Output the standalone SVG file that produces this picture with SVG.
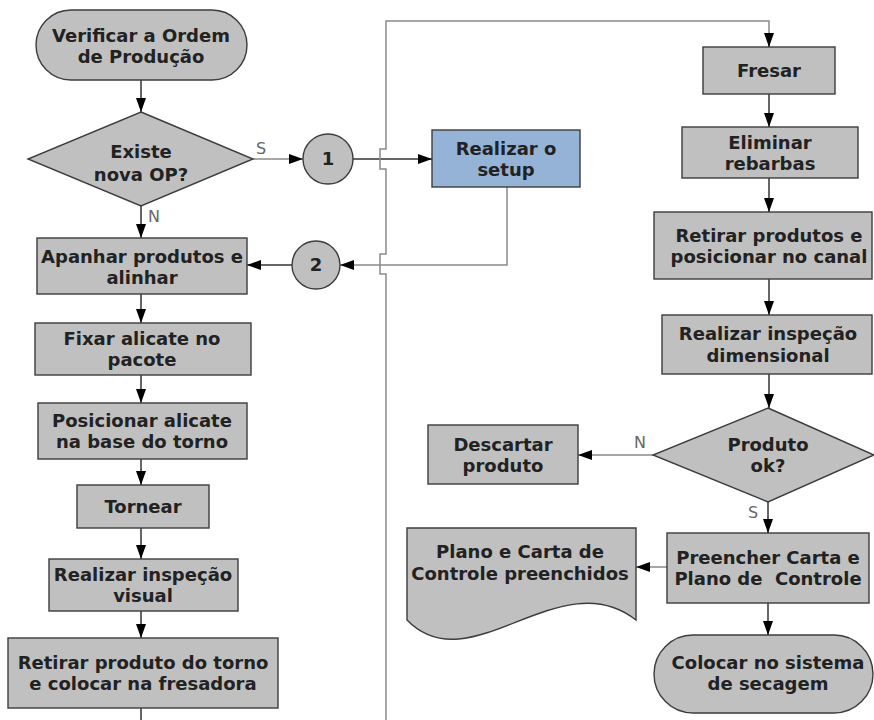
<svg xmlns="http://www.w3.org/2000/svg" width="874" height="720" viewBox="0 0 874 720">
<defs>
<style>
.box{fill:#c0c0c0;stroke:#3c3c3c;stroke-width:1.4}
.blue{fill:#95b3d7;stroke:#3c3c3c;stroke-width:1.4}
.t{font-family:"DejaVu Sans","Liberation Sans",sans-serif;font-weight:bold;font-size:18px;fill:#222;text-anchor:middle}
.lbl{font-family:"DejaVu Sans","Liberation Sans",sans-serif;font-size:16px;fill:#666}
.ln{fill:none;stroke:#333;stroke-width:1.5}
.lg{fill:none;stroke:#8a8a8a;stroke-width:1.5}
</style>
<marker id="ah" viewBox="0 0 14 10" refX="14" refY="5" markerWidth="14" markerHeight="10" markerUnits="userSpaceOnUse" orient="auto">
<path d="M0,0 L14,5 L0,10 z" fill="#000"/>
</marker>
</defs>
<rect width="874" height="720" fill="#fff"/>

<g id="connectors">
<path class="ln" d="M141,80 V112" marker-end="url(#ah)"/>
<path class="lg" d="M253,159 H303" marker-end="url(#ah)"/>
<path class="ln" d="M353,159 H432" marker-end="url(#ah)"/>
<path class="lg" d="M386,720 V274 H380 V254 H386 V169 H380 V149 H386 V21 H769 V47" />
<path class="ln" d="M769,38 V47" marker-end="url(#ah)"/>
<path class="lg" d="M507,187 V265 H340" marker-end="url(#ah)"/>
<path class="ln" d="M292,265 H247" marker-end="url(#ah)"/>
<path class="ln" d="M141,206 V238" marker-end="url(#ah)"/>
<path class="ln" d="M141,294 V323" marker-end="url(#ah)"/>
<path class="ln" d="M141,375 V403" marker-end="url(#ah)"/>
<path class="ln" d="M141,459 V485" marker-end="url(#ah)"/>
<path class="ln" d="M141,528 V559" marker-end="url(#ah)"/>
<path class="ln" d="M141,611 V638" marker-end="url(#ah)"/>
<path class="ln" d="M141,708 V720"/>
<path class="ln" d="M769,94 V127" marker-end="url(#ah)"/>
<path class="ln" d="M769,178 V212" marker-end="url(#ah)"/>
<path class="ln" d="M769,279 V315" marker-end="url(#ah)"/>
<path class="ln" d="M769,374 V408" marker-end="url(#ah)"/>
<path class="lg" d="M653,455 H578" marker-end="url(#ah)"/>
<path class="ln" d="M768,502 V533" marker-end="url(#ah)"/>
<path class="lg" d="M667,567 H636" marker-end="url(#ah)"/>
<path class="ln" d="M768,603 V635" marker-end="url(#ah)"/>
<text class="lbl" x="256" y="154">S</text>
<text class="lbl" x="148" y="222">N</text>
<text class="lbl" x="634" y="448">N</text>
<text class="lbl" x="748" y="518">S</text>
</g>

<g id="n-verificar">
<rect class="box" x="36" y="10" width="211" height="70" rx="35"/>
<text class="t" x="141" y="42">Verificar a Ordem</text>
<text class="t" x="141" y="63">de Produção</text>
</g>
<g id="n-existe">
<polygon class="box" points="141,112 253,159 141,206 28,159"/>
<text class="t" x="141" y="158">Existe</text>
<text class="t" x="141" y="181">nova OP?</text>
</g>
<g id="n-c1">
<circle class="box" cx="328" cy="159" r="25"/>
<text class="t" x="328" y="165">1</text>
</g>
<g id="n-setup">
<rect class="blue" x="432" y="130" width="148" height="57"/>
<text class="t" x="506" y="155">Realizar o</text>
<text class="t" x="506" y="176">setup</text>
</g>
<g id="n-c2">
<circle class="box" cx="316" cy="265" r="24"/>
<text class="t" x="316" y="271">2</text>
</g>
<g id="n-apanhar">
<rect class="box" x="37" y="238" width="210" height="56"/>
<text class="t" x="142" y="263">Apanhar produtos e</text>
<text class="t" x="142" y="284">alinhar</text>
</g>
<g id="n-fixar">
<rect class="box" x="35" y="323" width="216" height="52"/>
<text class="t" x="142" y="345">Fixar alicate no</text>
<text class="t" x="142" y="366">pacote</text>
</g>
<g id="n-posicionar">
<rect class="box" x="38" y="403" width="209" height="56"/>
<text class="t" x="142" y="427">Posicionar alicate</text>
<text class="t" x="142" y="448">na base do torno</text>
</g>
<g id="n-tornear">
<rect class="box" x="77" y="485" width="132" height="43"/>
<text class="t" x="143" y="513">Tornear</text>
</g>
<g id="n-visual">
<rect class="box" x="49" y="559" width="189" height="52"/>
<text class="t" x="143" y="581">Realizar inspeção</text>
<text class="t" x="143" y="602">visual</text>
</g>
<g id="n-retirar-torno">
<rect class="box" x="8" y="638" width="270" height="70"/>
<text class="t" x="143" y="669">Retirar produto do torno</text>
<text class="t" x="143" y="690">e colocar na fresadora</text>
</g>
<g id="n-fresar">
<rect class="box" x="703" y="47" width="132" height="47"/>
<text class="t" x="769" y="77">Fresar</text>
</g>
<g id="n-eliminar">
<rect class="box" x="682" y="127" width="176" height="51"/>
<text class="t" x="770" y="149">Eliminar</text>
<text class="t" x="770" y="170">rebarbas</text>
</g>
<g id="n-retirar-canal">
<rect class="box" x="654" y="212" width="218" height="67"/>
<text class="t" x="769" y="242">Retirar produtos e</text>
<text class="t" x="769" y="263">posicionar no canal</text>
</g>
<g id="n-dimensional">
<rect class="box" x="662" y="315" width="210" height="59"/>
<text class="t" x="768" y="340">Realizar inspeção</text>
<text class="t" x="768" y="362">dimensional</text>
</g>
<g id="n-produto-ok">
<polygon class="box" points="768,408 874,455 768,502 653,455"/>
<text class="t" x="768" y="451">Produto</text>
<text class="t" x="768" y="472">ok?</text>
</g>
<g id="n-descartar">
<rect class="box" x="428" y="425" width="150" height="59"/>
<text class="t" x="503" y="451">Descartar</text>
<text class="t" x="503" y="472">produto</text>
</g>
<g id="n-preencher">
<rect class="box" x="667" y="533" width="202" height="70"/>
<text class="t" x="768" y="564">Preencher Carta e</text>
<text class="t" x="768" y="585" xml:space="preserve">Plano de  Controle</text>
</g>
<g id="n-plano">
<path class="box" d="M407,528 H636 V620 C560,560 470,685 407,620 Z"/>
<text class="t" x="520" y="558">Plano e Carta de</text>
<text class="t" x="520" y="580">Controle preenchidos</text>
</g>
<g id="n-colocar">
<rect class="box" x="654" y="635" width="219" height="78" rx="39"/>
<text class="t" x="768" y="669">Colocar no sistema</text>
<text class="t" x="768" y="690">de secagem</text>
</g>
</svg>
